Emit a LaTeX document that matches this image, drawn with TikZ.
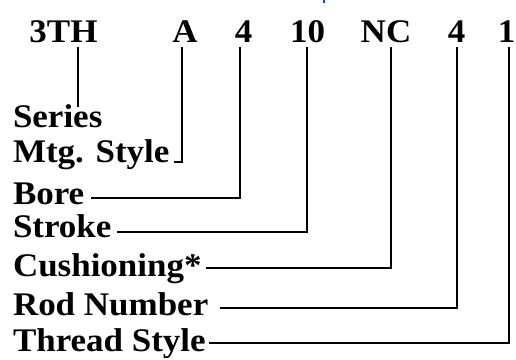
\documentclass[tikz,border=0pt]{standalone}
\usepackage{fontspec}
\setmainfont{Liberation Serif}[FakeStretch=1.06]
\begin{document}
\begin{tikzpicture}[x=1bp,y=-1bp,
  code/.style={font=\bfseries\fontsize{33bp}{36bp}\selectfont, inner sep=0pt, outer sep=0pt, anchor=base},
  field/.style={font=\bfseries\fontsize{33bp}{36bp}\selectfont, inner sep=0pt, outer sep=0pt, anchor=base west},
  lead/.style={draw=black, line width=2.2bp, line cap=butt, line join=miter}]
\useasboundingbox (0,0) rectangle (516,359);

% small blue mark at the top edge
\fill[blue!70!cyan] (322.5,0) rectangle (324.5,2.5);

% model code
\node[code] (tTH) at (63.5,42) {3TH};
\node[code] (tA)  at (185,42) {A};
\node[code] (tB)  at (243.5,42) {4};
\node[code] (tS)  at (307.5,42) {10};
\node[code] (tC)  at (386,42) {NC};
\node[code] (tR)  at (456.5,42) {4};
\node[code] (tT)  at (506.5,42) {1};

% field names
\node[field] (series) at (13,127) {Series};
\node[field] (mtg)    at (13,162) {Mtg. Style};
\node[field] (bore)   at (13,204) {Bore};
\node[field] (stroke) at (13,237) {Stroke};
\node[field] (cush)   at (13,276) {Cushioning*};
\node[field] (rod)    at (13,315) {Rod Number};
\node[field] (thread) at (13,351) {Thread Style};

% corners of the leader lines
\coordinate (kTH) at (78,107);
\coordinate (kA)  at (182,162);
\coordinate (kB)  at (240,198);
\coordinate (kS)  at (307,232);
\coordinate (kC)  at (391,268);
\coordinate (kR)  at (457,308);
\coordinate (kT)  at (509,343);

% free ends next to the field names
\coordinate (eA) at (174,162);
\coordinate (eB) at (91,198);
\coordinate (eS) at (117,232);
\coordinate (eC) at (206,268);
\coordinate (eR) at (220,308);
\coordinate (eT) at (209,343);

% leader lines
\draw[lead, shorten <=5bp] (tTH.south -| kTH) -- (kTH);
\draw[lead, shorten <=5bp] (tA.south -| kA) -- (kA) -- (eA);
\draw[lead, shorten <=5bp] (tB.south -| kB) -- (kB) -- (eB);
\draw[lead, shorten <=5bp] (tS.south -| kS) -- (kS) -- (eS);
\draw[lead, shorten <=5bp] (tC.south -| kC) -- (kC) -- (eC);
\draw[lead, shorten <=5bp] (tR.south -| kR) -- (kR) -- (eR);
\draw[lead, shorten <=5bp] (tT.south -| kT) -- (kT) -- (eT);
\end{tikzpicture}
\end{document}
